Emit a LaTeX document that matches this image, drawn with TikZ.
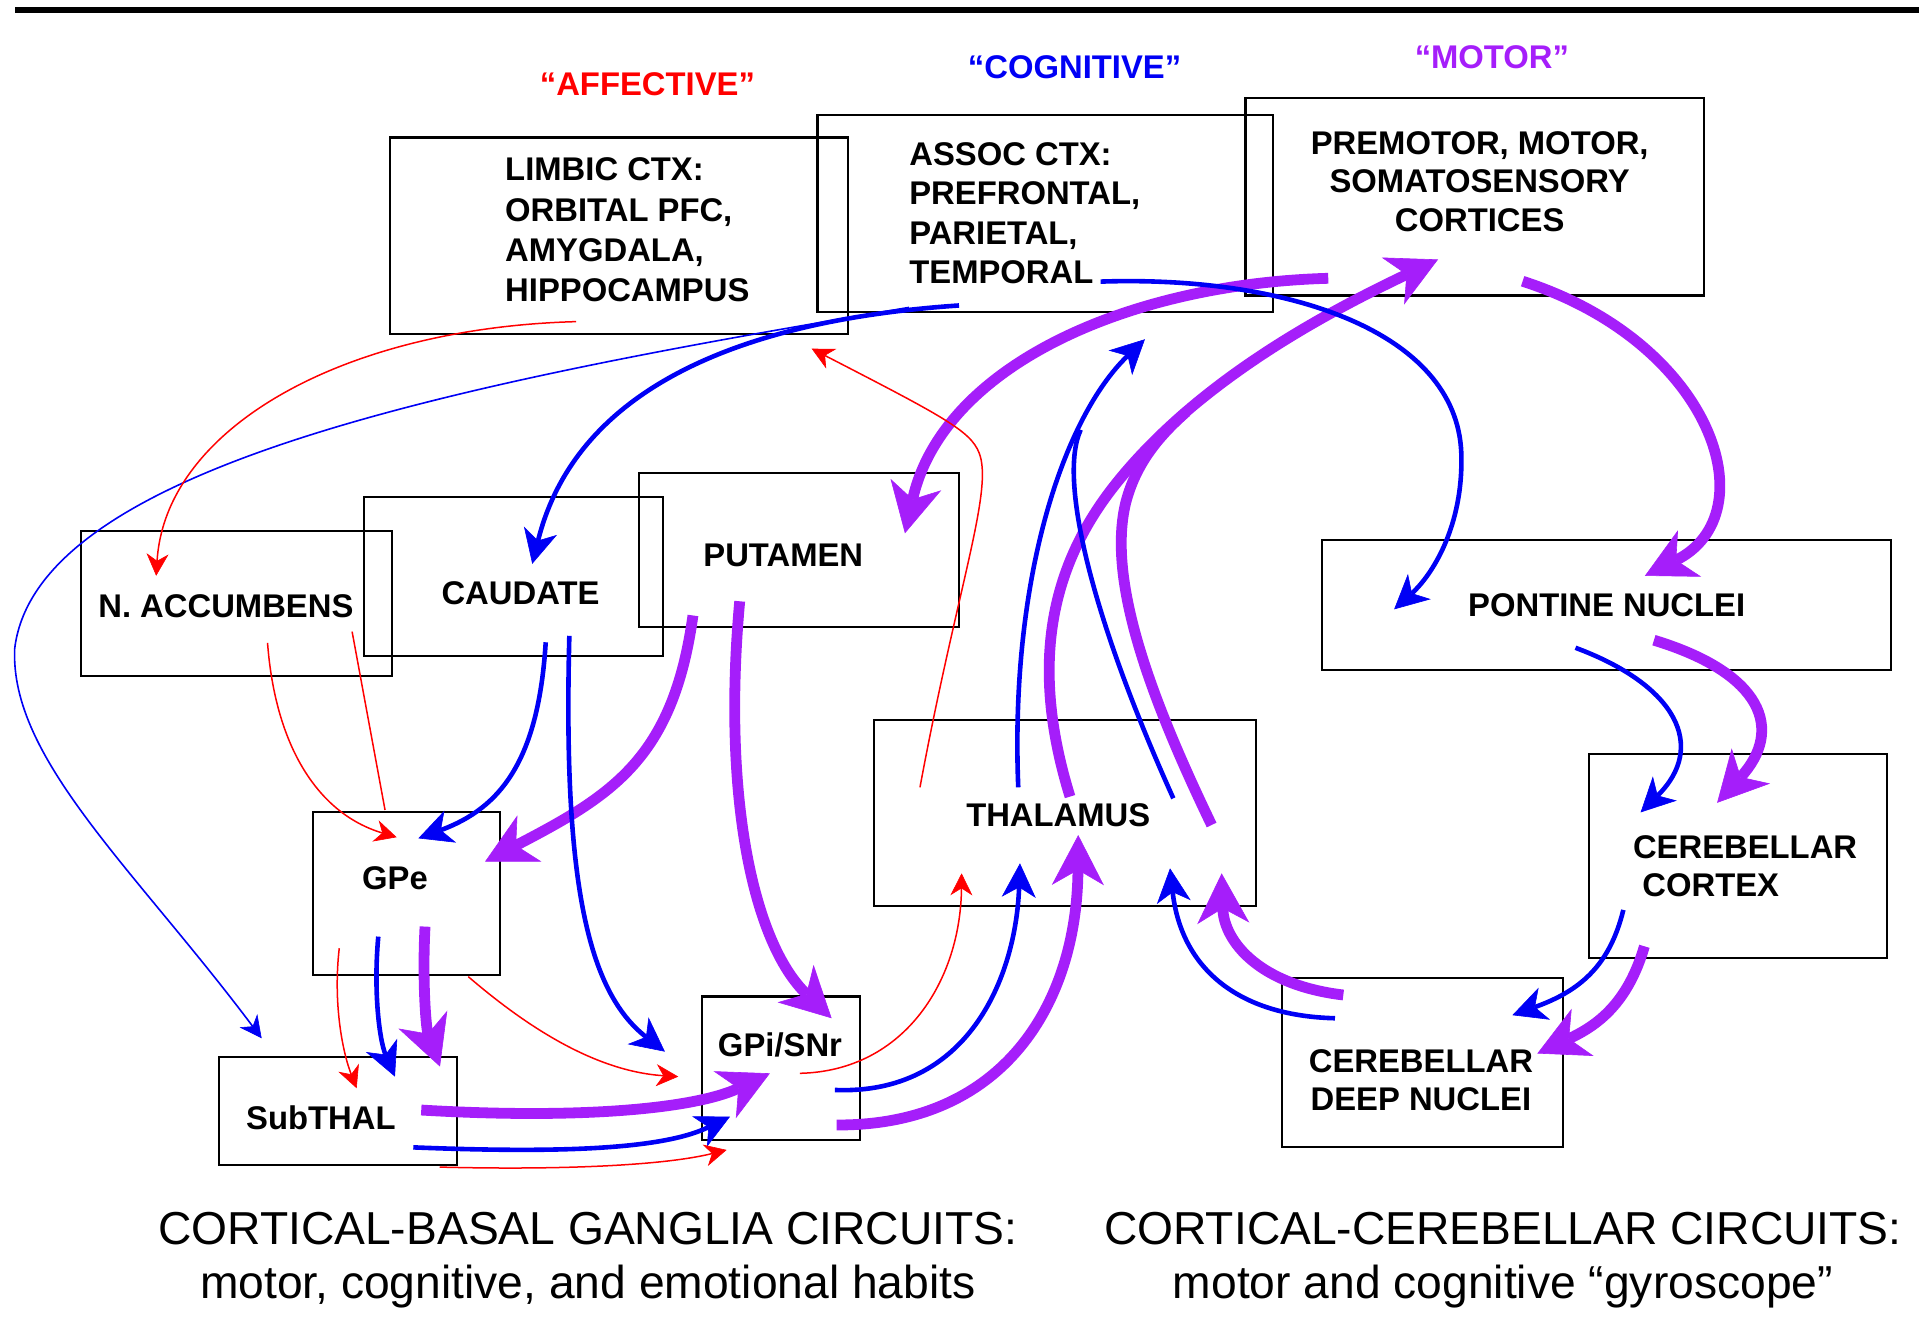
\documentclass[tikz,border=0pt]{standalone}
\usepackage{fontspec}
\setmainfont{Liberation Sans}
\usetikzlibrary{arrows.meta,fit}
\definecolor{cred}{RGB}{255,0,0}
\definecolor{cblue}{RGB}{0,0,245}
\definecolor{cpurp}{RGB}{165,30,250}
\begin{document}
\begin{tikzpicture}[x=0.6119pt,y={(0pt,-0.6119pt)},
  box/.style={draw=black,line width=1.1pt,inner sep=0pt,outer sep=0pt},
  lbl/.style={inner sep=0pt,outer sep=0pt,font=\fontsize{16.4}{19.3}\selectfont\bfseries},
  hdr/.style={lbl},
  captxt/.style={inner sep=0pt,outer sep=0pt,align=center,font=\fontsize{23.1}{27.4}\selectfont},
  redarr/.style={draw=cred,line width=0.75pt,-{Stealth[length=11pt,width=11pt,inset=3.5pt,line width=0.3pt]}},
  redline/.style={draw=cred,line width=0.75pt},
  thinblue/.style={draw=cblue,line width=0.8pt,-{Stealth[length=11pt,width=11pt,inset=3.5pt,line width=0.3pt]}},
  bluearr/.style={draw=cblue,line width=2.3pt,-{Stealth[length=17pt,width=17pt,inset=5pt,line width=0.3pt]}},
  blueline/.style={draw=cblue,line width=2.3pt},
  purparr/.style={draw=cpurp,line width=5.4pt,-{Stealth[length=25pt,width=26pt,inset=7.5pt,line width=0.3pt]}},
  purpline/.style={draw=cpurp,line width=5.4pt}
]
\useasboundingbox (0,0) rectangle (1568,1092.45);
% top rule
\coordinate (ruleL) at (12.5,8);
\coordinate (ruleR) at (1568,8);
\draw[line width=3pt] (ruleL) -- (ruleR);

% boxes
\node[box,fit={(318.7,112.4) (693,272.8)}] (limbic) {};
\node[box,fit={(668,94.1) (1039.9,254.7)}] (assoc) {};
\node[box,fit={(1017.7,80.3) (1392.5,241.5)}] (premotor) {};
\node[box,fit={(66,434.1) (320.2,552.6)}] (nacc) {};
\node[box,fit={(297.7,406) (541.7,535.8)}] (caudate) {};
\node[box,fit={(521.9,386.2) (783.6,512.3)}] (putamen) {};
\node[box,fit={(1080.3,441) (1545.3,547.4)}] (pontine) {};
\node[box,fit={(714.1,588.3) (1026.2,740)}] (thalamus) {};
\node[box,fit={(1298.2,616.2) (1542.1,782.6)}] (cortex) {};
\node[box,fit={(256,663.2) (408.5,796.6)}] (gpe) {};
\node[box,fit={(179.1,863.4) (373.7,951.8)}] (subthal) {};
\node[box,fit={(573.3,814.3) (702.7,931.5)}] (gpi) {};
\node[box,fit={(1047.2,798.8) (1277.3,937.4)}] (deep) {};

% texts
\node[lbl,anchor=north west,align=left,font=\fontsize{16.4}{20.1}\selectfont\bfseries] (limbicT) at (412.8,129.1) {LIMBIC CTX:\\ORBITAL PFC,\\AMYGDALA,\\HIPPOCAMPUS};
\node[lbl,anchor=north west,align=left,font=\fontsize{16.4}{19.7}\selectfont\bfseries] (assocT) at (743,116.3) {ASSOC CTX:\\PREFRONTAL,\\PARIETAL,\\TEMPORAL};
\node[lbl,anchor=north,align=center] (premotorT) at (1209,107.2) {PREMOTOR, MOTOR,\\SOMATOSENSORY\\CORTICES};
\node[lbl] (naccT) at (184.6,495.4) {N. ACCUMBENS};
\node[lbl] (caudateT) at (425.3,484.4) {CAUDATE};
\node[lbl] (putamenT) at (640,454.1) {PUTAMEN};
\node[lbl] (pontineT) at (1312.8,494.3) {PONTINE NUCLEI};
\node[lbl] (thalamusT) at (864.7,665.9) {THALAMUS};
\node[lbl,anchor=north west,align=left] (cortexT) at (1334.3,682.4) {CEREBELLAR\\\hspace*{4.7pt}CORTEX};
\node[lbl] (gpeT) at (322.7,717.6) {GPe};
\node[lbl] (subthalT) at (262.2,913.5) {SubTHAL};
\node[lbl] (gpiT) at (637.3,853.8) {GPi/SNr};
\node[lbl,anchor=north,align=center] (deepT) at (1161,857.5) {CEREBELLAR\\DEEP NUCLEI};
\node[hdr,text=cred] (affH) at (529,68.6) {“AFFECTIVE”};
\node[hdr,text=cblue] (cogH) at (878,54.7) {“COGNITIVE”};
\node[hdr,text=cpurp] (motH) at (1219,46.7) {“MOTOR”};
\node[captxt,anchor=north] (capL) at (480.3,990.2) {CORTICAL-BASAL GANGLIA CIRCUITS:\\motor, cognitive, and emotional habits};
\node[captxt,anchor=north] (capR) at (1228,990.2) {CORTICAL-CEREBELLAR CIRCUITS:\\motor and cognitive “gyroscope”};

% ---------- purple (motor) ----------
\coordinate (p1s) at (1085.3,227.4); \coordinate (p1e) at (739.4,435.8);
\draw[purparr] (p1s) .. controls (920,232) and (770,300) .. (p1e);
\coordinate (p2s) at (566.2,502.9); \coordinate (p2e) at (396.3,704);
\draw[purparr] (p2s) .. controls (550,620) and (500,650) .. (p2e);
\coordinate (p3s) at (604.4,491.3); \coordinate (p3e) at (679.5,832);
\draw[purparr] (p3s) .. controls (590,650) and (615,770) .. (p3e);
\coordinate (p4s) at (347.3,757.1); \coordinate (p4e) at (359.5,871.5);
\draw[purparr] (p4s) .. controls (345,800) and (348,840) .. (p4e);
\coordinate (p5s) at (344.2,907); \coordinate (p5e) at (629.1,877);
\draw[purparr] (p5s) .. controls (480,915) and (570,905) .. (p5e);
\coordinate (p6s) at (683.6,919.2); \coordinate (p6e) at (881,682.3);
\draw[purparr] (p6s) .. controls (820,920) and (880,820) .. (p6e);
\coordinate (p7s) at (874.3,650.9); \coordinate (p7m) at (912,395); \coordinate (p7e) at (1175,212);
\draw[purparr] (p7s) .. controls (840,540) and (860,460) .. (p7m) .. controls (980,310) and (1085,255) .. (p7e);
\coordinate (p8s) at (990,674.1); \coordinate (p8m) at (920,410); \coordinate (p8e) at (969.3,336.6);
\draw[purpline] (p8s) .. controls (935,560) and (905,470) .. (p8m) .. controls (928,380) and (945,358) .. (p8e);
\coordinate (p9s) at (1244.1,229.8); \coordinate (p9e) at (1344,470.5);
\draw[purparr] (p9s) .. controls (1400,280) and (1445,420) .. (p9e);
\coordinate (p10s) at (1351.4,523.1); \coordinate (p10e) at (1403,656);
\draw[purparr] (p10s) .. controls (1440,550) and (1458,596) .. (p10e);
\coordinate (p11s) at (1343.6,773.2); \coordinate (p11e) at (1256.1,860.8);
\draw[purparr] (p11s) .. controls (1330,820) and (1305,838) .. (p11e);
\coordinate (p12s) at (1097.6,813); \coordinate (p12e) at (998.2,713.6);
\draw[purparr] (p12s) .. controls (1030,805) and (1000,770) .. (p12e);

% ---------- blue (cognitive) ----------
\coordinate (b1s) at (783.6,249.6); \coordinate (b1e) at (434.9,460.7);
\draw[bluearr] (b1s) .. controls (600,262) and (470,320) .. (b1e);
\coordinate (b2s) at (742.7,251.2); \coordinate (b2m) at (12,530); \coordinate (b2e) at (213.8,848.4);
\draw[thinblue] (b2s) .. controls (380,312) and (30,380) .. (b2m) .. controls (8,620) and (110,710) .. (b2e);
\coordinate (b3s) at (445.9,524.8); \coordinate (b3e) at (341.8,685);
\draw[bluearr] (b3s) .. controls (440,620) and (410,660) .. (b3e);
\coordinate (b4s) at (465.2,519.5); \coordinate (b4e) at (543.3,859.3);
\draw[bluearr] (b4s) .. controls (460,720) and (480,810) .. (b4e);
\coordinate (b5s) at (309.1,765.3); \coordinate (b5e) at (322.7,879.7);
\draw[bluearr] (b5s) .. controls (305,810) and (310,850) .. (b5e);
\coordinate (b6s) at (337.7,937.5); \coordinate (b6e) at (596.5,912.4);
\draw[bluearr] (b6s) .. controls (450,942) and (540,940) .. (b6e);
\coordinate (b7s) at (682.2,890.6); \coordinate (b7e) at (833.4,705.4);
\draw[bluearr] (b7s) .. controls (790,895) and (830,800) .. (b7e);
\coordinate (b8s) at (832,643.3); \coordinate (b8e) at (935.5,277.2);
\draw[bluearr] (b8s) .. controls (825,470) and (870,340) .. (b8e);
\coordinate (b9s) at (958.7,652.3); \coordinate (b9e) at (883,351.2);
\draw[blueline] (b9s) .. controls (890,500) and (865,390) .. (b9e);
\coordinate (b10s) at (899.3,230.1); \coordinate (b10m) at (1194,370); \coordinate (b10e) at (1139.1,497.9);
\draw[bluearr] (b10s) .. controls (1050,225) and (1190,270) .. (b10m) .. controls (1196,430) and (1170,470) .. (b10e);
\coordinate (b11s) at (1287.3,529.3); \coordinate (b11e) at (1340.5,663.8);
\draw[bluearr] (b11s) .. controls (1370,560) and (1395,610) .. (b11e);
\coordinate (b12s) at (1326.4,743.5); \coordinate (b12e) at (1235.7,829.5);
\draw[bluearr] (b12s) .. controls (1315,790) and (1290,810) .. (b12e);
\coordinate (b13s) at (1090.8,832); \coordinate (b13e) at (956,709.5);
\draw[bluearr] (b13s) .. controls (1010,830) and (965,790) .. (b13e);

% ---------- red (affective) ----------
\coordinate (r1s) at (470.8,262.8); \coordinate (r1e) at (127.6,470.5);
\draw[redarr] (r1s) .. controls (280,268) and (135,350) .. (r1e);
\coordinate (r2s) at (218.6,525.3); \coordinate (r2e) at (324.1,684.1);
\draw[redarr] (r2s) .. controls (225,610) and (260,665) .. (r2e);
\coordinate (r3s) at (287.7,516.1); \coordinate (r3e) at (314.6,661.8);
\draw[redline] (r3s) -- (r3e);
\coordinate (r4s) at (277.2,774.8); \coordinate (r4e) at (291.4,889.2);
\draw[redarr] (r4s) .. controls (272,820) and (280,860) .. (r4e);
\coordinate (r5s) at (382.6,798); \coordinate (r5e) at (554.2,879.7);
\draw[redarr] (r5s) .. controls (420,830) and (480,875) .. (r5e);
\coordinate (r6s) at (359.3,953.6); \coordinate (r6e) at (593.7,939.6);
\draw[redarr] (r6s) .. controls (450,956) and (540,953) .. (r6e);
\coordinate (r7s) at (653.6,877); \coordinate (r7e) at (785.7,713.6);
\draw[redarr] (r7s) .. controls (740,875) and (785,800) .. (r7e);
\coordinate (r8s) at (751.7,643.3); \coordinate (r8m) at (800,370); \coordinate (r8e) at (663.2,284.9);
\draw[redarr] (r8s) .. controls (782,480) and (812,400) .. (r8m) .. controls (793,352) and (770,340) .. (r8e);
\end{tikzpicture}
\end{document}
